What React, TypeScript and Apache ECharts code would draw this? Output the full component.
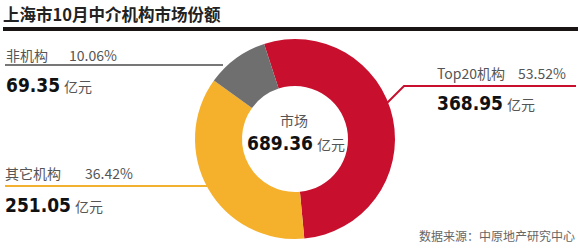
import React, { useEffect, useRef } from "react";
import * as echarts from "echarts";

const categories = ["Top20机构", "其它机构", "非机构"];
const values = [368.95, 251.05, 69.35];
const percents = ["53.52%", "36.42%", "10.06%"];
const totalLabel = "市场";
const totalValue = "689.36";
const unit = "亿元";
const colors = ["#C8102E", "#F5B02C", "#6F6F6F"];
const title = "上海市10月中介机构市场份额";
const source = "数据来源：中原地产研究中心";

const numFont = "'DejaVu Sans Condensed', 'Liberation Sans Narrow', sans-serif";
const cjkFont = "'Noto Sans CJK SC', 'Noto Sans', sans-serif";

export default function App() {
  const ref = useRef<HTMLDivElement>(null);
  useEffect(() => {
    if (!ref.current) return;
    const chart = echarts.init(ref.current, null, { renderer: "svg" });

    const rich = {
      b: {
        fontFamily: numFont,
        fontWeight: "bold",
        fontSize: 19,
        fill: "#111",
      },
      u: { fontFamily: cjkFont, fontSize: 14, fill: "#555", padding: [2, 0, 0, 4] },
    };

    const labelBlock = (
      idx: number,
      x: number,
      yName: number,
      yVal: number,
      pctX: number
    ) => [
      {
        type: "text",
        x,
        y: yName,
        style: {
          text: categories[idx],
          font: `14px ${cjkFont}`,
          fill: "#555",
          verticalAlign: "middle",
        },
      },
      {
        type: "text",
        x: pctX,
        y: yName,
        style: {
          text: percents[idx],
          font: `14px ${cjkFont}`,
          fill: "#555",
          verticalAlign: "middle",
        },
      },
      {
        type: "text",
        x,
        y: yVal,
        style: {
          text: `{b|${values[idx].toFixed(2)}}{u|${unit}}`,
          verticalAlign: "middle",
          rich,
        },
      },
    ];

    chart.setOption({
      animation: false,
      backgroundColor: "#fff",
      series: [
        {
          type: "pie",
          center: [295, 139],
          radius: [53, 100],
          startAngle: 108,
          clockwise: true,
          silent: true,
          label: { show: false },
          labelLine: { show: false },
          data: categories.map((c, i) => ({
            name: c,
            value: values[i],
            itemStyle: { color: colors[i] },
          })),
        },
      ],
      graphic: [
        {
          type: "text",
          x: 3,
          y: 14,
          style: {
            text: title,
            font: `bold 16.5px ${cjkFont}`,
            fill: "#222",
            verticalAlign: "middle",
          },
        },
        {
          type: "rect",
          shape: { x: 3, y: 27, width: 575, height: 4 },
          style: { fill: "#1a1414" },
        },
        {
          type: "polyline",
          shape: { points: [[5, 65], [223, 65]] },
          style: { stroke: "#777", lineWidth: 2, fill: null },
        },
        {
          type: "polyline",
          shape: { points: [[5, 186], [207, 186]] },
          style: { stroke: "#F2B230", lineWidth: 2, fill: null },
        },
        {
          type: "polyline",
          shape: { points: [[387, 103], [404, 86], [576, 86]] },
          style: { stroke: "#C8102E", lineWidth: 2, fill: null },
        },
        ...labelBlock(2, 6, 55, 85, 69),
        ...labelBlock(1, 5, 173, 205, 85),
        ...labelBlock(0, 437, 73, 103, 518),
        {
          type: "text",
          x: 294,
          y: 120,
          style: {
            text: totalLabel,
            font: `14px ${cjkFont}`,
            fill: "#555",
            align: "center",
            verticalAlign: "middle",
          },
        },
        {
          type: "text",
          x: 296,
          y: 143,
          style: {
            text: `{b|${totalValue}}{u|${unit}}`,
            align: "center",
            verticalAlign: "middle",
            rich,
          },
        },
        {
          type: "text",
          x: 575,
          y: 235,
          style: {
            text: source,
            font: `12px ${cjkFont}`,
            fill: "#666",
            align: "right",
            verticalAlign: "middle",
          },
        },
      ],
    });
    return () => chart.dispose();
  }, []);
  return <div ref={ref} style={{ width: 580, height: 248, position: "absolute", left: 0, top: 0 }} />;
}
